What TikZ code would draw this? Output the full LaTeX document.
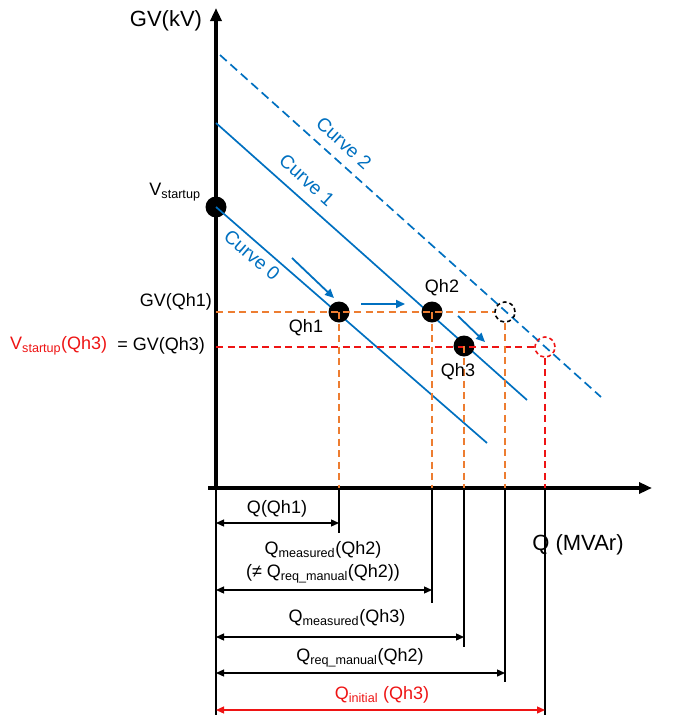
\documentclass[tikz,border=0pt]{standalone}
\usepackage{fontspec}
\setmainfont{Liberation Sans}
\usetikzlibrary{arrows.meta}
\definecolor{curveBlue}{RGB}{0,112,192}
\definecolor{guideOrange}{RGB}{237,125,49}
\definecolor{guideRed}{RGB}{238,20,20}

\begin{document}
\begin{tikzpicture}[
  x=1pt,
  y=-1pt,
  every node/.style={
    font=\fontsize{18}{20}\selectfont,
    inner sep=0pt,
  },
  axis/.style={
    line width=4pt,
    -{Triangle[length=13pt,width=11pt]},
  },
  axis label/.style={
    font=\fontsize{22}{24}\selectfont,
  },
  curve/.style={
    draw=curveBlue,
    line width=1.7pt,
  },
  curve label/.style={
    text=curveBlue,
    font=\fontsize{19}{20}\selectfont,
  },
  guide/.style={
    line width=1.7pt,
    dash pattern=on 7pt off 4.5pt,
  },
  point/.style={
    circle,
    fill=black,
    minimum size=21pt,
  },
  ghost/.style={
    circle,
    draw,
    line width=1.6pt,
    dash pattern=on 4pt off 3pt,
    minimum size=20pt,
  },
  move/.style={
    draw=curveBlue,
    line width=1.8pt,
    -{Triangle[length=9pt,width=8pt]},
  },
  dim/.style={
    line width=1.3pt,
    {Triangle[length=8pt,width=7pt]}-{Triangle[length=8pt,width=7pt]},
  },
  stem/.style={
    line width=1.6pt,
  },
]
\useasboundingbox (0,0) rectangle (679,715);

\coordinate (O) at (216,488);
\coordinate (ytip) at (216,8);
\coordinate (xstart) at (208,488);
\coordinate (xtip) at (652,488);
\coordinate (bottom) at (216,715);

\draw[stem] (O) -- (bottom);
\draw[axis] (O) -- (ytip);
\draw[axis] (xstart) -- (xtip);
\node[axis label] (gvaxis) at (166,21) {GV(kV)};
\node[axis label] (qaxis) at (578,545) {Q (MVAr)};

\coordinate (c2a) at (220,55);
\coordinate (c2b) at (601,397);
\coordinate (c1a) at (216,123);
\coordinate (c1b) at (527,400);
\coordinate (c0b) at (487,443);

\draw[curve,dash pattern=on 9pt off 5pt] (c2a) -- (c2b);
\draw[curve] (c1a) -- (c1b);
\node[point] (vs) at (216,207) {};
\draw[curve] (vs.center) -- (c0b);

\node[curve label,rotate=-42] (lab2) at (344,143) {Curve 2};
\node[curve label,rotate=-42] (lab1) at (307,180) {Curve 1};
\node[curve label,rotate=-41] (lab0) at (252,255) {Curve 0};

\node[point] (qh1) at (339,312) {};
\node[point] (qh2) at (432,312) {};
\node[point] (qh3) at (464,346) {};
\node[ghost] (g2) at (505,312) {};
\node[ghost,draw=guideRed] (gr) at (545,347) {};

\coordinate (h1) at (216,312);
\coordinate (h3) at (216,347);
\draw[guide,guideOrange] (h1) -- (g2.west);
\draw[guide,guideRed] (h3) -- (gr.west);
\foreach \p/\xx in {qh1.center/339,qh2.center/432,qh3.center/464,g2.south/505}
  \draw[guide,guideOrange] (\p) -- (\xx,488);
\draw[guide,guideRed] (gr.south) -- (545,488);

\coordinate (m0a) at (292,258);
\coordinate (m0b) at (334,298);
\coordinate (m1a) at (361,304);
\coordinate (m1b) at (405,304);
\coordinate (m2a) at (458,316);
\coordinate (m2b) at (485,342);
\draw[move] (m0a) -- (m0b);
\draw[move] (m1a) -- (m1b);
\draw[move] (m2a) -- (m2b);

\node (lvs) at (175,192) {V\textsubscript{startup}};
\node[anchor=east] (lgv1) at (212,302) {GV(Qh1)};
\node[anchor=west,text=guideRed] (lvs3) at (10,346) {V\textsubscript{startup}(Qh3)};
\node[anchor=east] (lgv3) at (205,346) {= GV(Qh3)};
\node (lqh1) at (306,328) {Qh1};
\node (lqh2) at (442,288) {Qh2};
\node (lqh3) at (458,372) {Qh3};

\foreach \n/\xx/\yy/\yend in {d1/339/523/533,d2/432/590/603,d3/464/637/647,d4/505/673/682,d5/545/710/715}
{
  \coordinate (\n s) at (216,\yy);
  \coordinate (\n e) at (\xx,\yy);
  \draw[stem] (\xx,488) -- (\xx,\yend);
}
\foreach \n in {d1,d2,d3,d4}
  \draw[dim] (\n s) -- (\n e);
\draw[dim,guideRed] (d5s) -- (d5e);

\node (ld1) at (277,509) {Q(Qh1)};
\node (ld2) at (323,550) {Q\textsubscript{measured}(Qh2)};
\node (ld2b) at (323,574) {(≠ Q\textsubscript{req\_manual}(Qh2))};
\node (ld3) at (347,618) {Q\textsubscript{measured}(Qh3)};
\node (ld4) at (360,658) {Q\textsubscript{req\_manual}(Qh2)};
\node[text=guideRed] (ld5) at (382,695) {Q\textsubscript{initial} (Qh3)};
\end{tikzpicture}
\end{document}
